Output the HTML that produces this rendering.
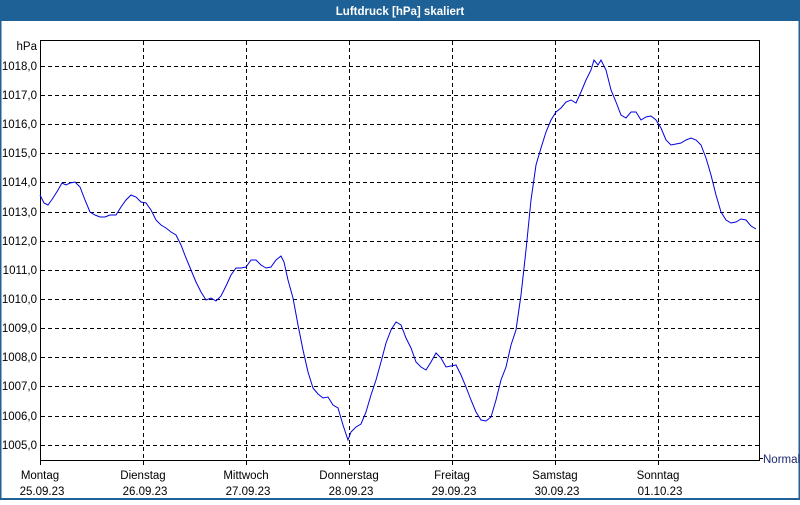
<!DOCTYPE html>
<html><head><meta charset="utf-8"><style>
body{margin:0;width:800px;height:500px;overflow:hidden;background:#fff;font-family:"Liberation Sans",sans-serif}
</style></head><body>
<svg width="800" height="500" xmlns="http://www.w3.org/2000/svg" font-family="Liberation Sans, sans-serif" font-size="11.5">
<rect x="0" y="0" width="800" height="500" fill="#fff"/>
<rect x="0" y="0" width="800" height="21" fill="#1e6196"/>
<text x="400" y="15" fill="#fff" font-weight="bold" font-size="11.5" text-anchor="middle">Luftdruck [hPa] skaliert</text>
<rect x="0.5" y="20" width="799" height="479" fill="none" stroke="#1e6196" stroke-width="2"/>
<g stroke="#000" stroke-dasharray="4,3" stroke-width="1">
<line x1="41" y1="66.5" x2="760" y2="66.5"/><line x1="41" y1="95.5" x2="760" y2="95.5"/><line x1="41" y1="124.5" x2="760" y2="124.5"/><line x1="41" y1="153.5" x2="760" y2="153.5"/><line x1="41" y1="182.5" x2="760" y2="182.5"/><line x1="41" y1="212.5" x2="760" y2="212.5"/><line x1="41" y1="241.5" x2="760" y2="241.5"/><line x1="41" y1="270.5" x2="760" y2="270.5"/><line x1="41" y1="299.5" x2="760" y2="299.5"/><line x1="41" y1="328.5" x2="760" y2="328.5"/><line x1="41" y1="357.5" x2="760" y2="357.5"/><line x1="41" y1="386.5" x2="760" y2="386.5"/><line x1="41" y1="416.5" x2="760" y2="416.5"/><line x1="41" y1="445.5" x2="760" y2="445.5"/>
<line x1="143.5" y1="41" x2="143.5" y2="465"/><line x1="246.5" y1="41" x2="246.5" y2="465"/><line x1="349.5" y1="41" x2="349.5" y2="465"/><line x1="452.5" y1="41" x2="452.5" y2="465"/><line x1="555.5" y1="41" x2="555.5" y2="465"/><line x1="658.5" y1="41" x2="658.5" y2="465"/>
</g>
<rect x="40.5" y="40.5" width="719" height="420" fill="none" stroke="#000"/>
<line x1="40.5" y1="461" x2="40.5" y2="465" stroke="#000"/>
<line x1="760" y1="458.5" x2="763" y2="458.5" stroke="#000"/>
<g text-anchor="end" fill="#000">
<text x="37" y="50">hPa</text>
<text x="37" y="70">1018,0</text><text x="37" y="99">1017,0</text><text x="37" y="128">1016,0</text><text x="37" y="157">1015,0</text><text x="37" y="186">1014,0</text><text x="37" y="216">1013,0</text><text x="37" y="245">1012,0</text><text x="37" y="274">1011,0</text><text x="37" y="303">1010,0</text><text x="37" y="332">1009,0</text><text x="37" y="361">1008,0</text><text x="37" y="390">1007,0</text><text x="37" y="420">1006,0</text><text x="37" y="449">1005,0</text>
</g>
<g text-anchor="middle" fill="#000">
<text x="40" y="479">Montag</text><text x="42" y="495">25.09.23</text>
<text x="143" y="479">Dienstag</text><text x="145" y="495">26.09.23</text>
<text x="246" y="479">Mittwoch</text><text x="248" y="495">27.09.23</text>
<text x="349" y="479">Donnerstag</text><text x="351" y="495">28.09.23</text>
<text x="452" y="479">Freitag</text><text x="454" y="495">29.09.23</text>
<text x="555" y="479">Samstag</text><text x="557" y="495">30.09.23</text>
<text x="658" y="479">Sonntag</text><text x="660" y="495">01.10.23</text>
</g>
<text x="763" y="463" fill="#1a2a70">Normal</text>
<polyline fill="none" stroke="#0000e0" stroke-width="1" points="40,195 44,203 48,205 53,198 58,190 62,183 66,185 70,183 75,182 80,187 85,200 90,212 95,215 100,217 105,217 110,215 116,215 121,207 126,200 131,195 136,197 141,202 146,203 151,210 156,220 161,225 166,228 171,232 176,235 181,245 186,258 191,270 196,282 201,292 206,300 211,298 216,301 221,296 226,286 231,275 236,268 241,268 246,267 251,260 256,260 261,265 266,268 271,267 276,260 281,256 284,262 288,280 293,298 298,325 303,350 308,372 313,388 318,394 323,398 328,397 333,405 338,408 343,425 348,440 351,432 356,427 361,424 366,412 371,395 376,380 381,362 386,343 391,330 396,322 401,325 406,338 411,348 416,362 421,367 426,370 431,362 436,353 441,358 446,367 451,366 456,365 461,375 466,387 471,400 476,412 481,420 486,421 491,417 496,400 501,380 506,367 511,345 516,330 521,295 526,250 531,200 536,165 541,148 546,132 551,120 556,112 561,108 566,102 571,100 576,103 581,92 586,80 591,70 594,60 598,65 601,60 606,70 611,90 616,102 621,115 626,118 631,112 636,112 641,120 646,117 651,116 656,120 661,128 666,140 671,145 676,144 681,143 686,140 691,138 696,140 701,145 706,158 711,175 716,195 721,212 726,220 731,223 736,222 741,219 746,220 751,226 756,229"/>
</svg>
</body></html>
